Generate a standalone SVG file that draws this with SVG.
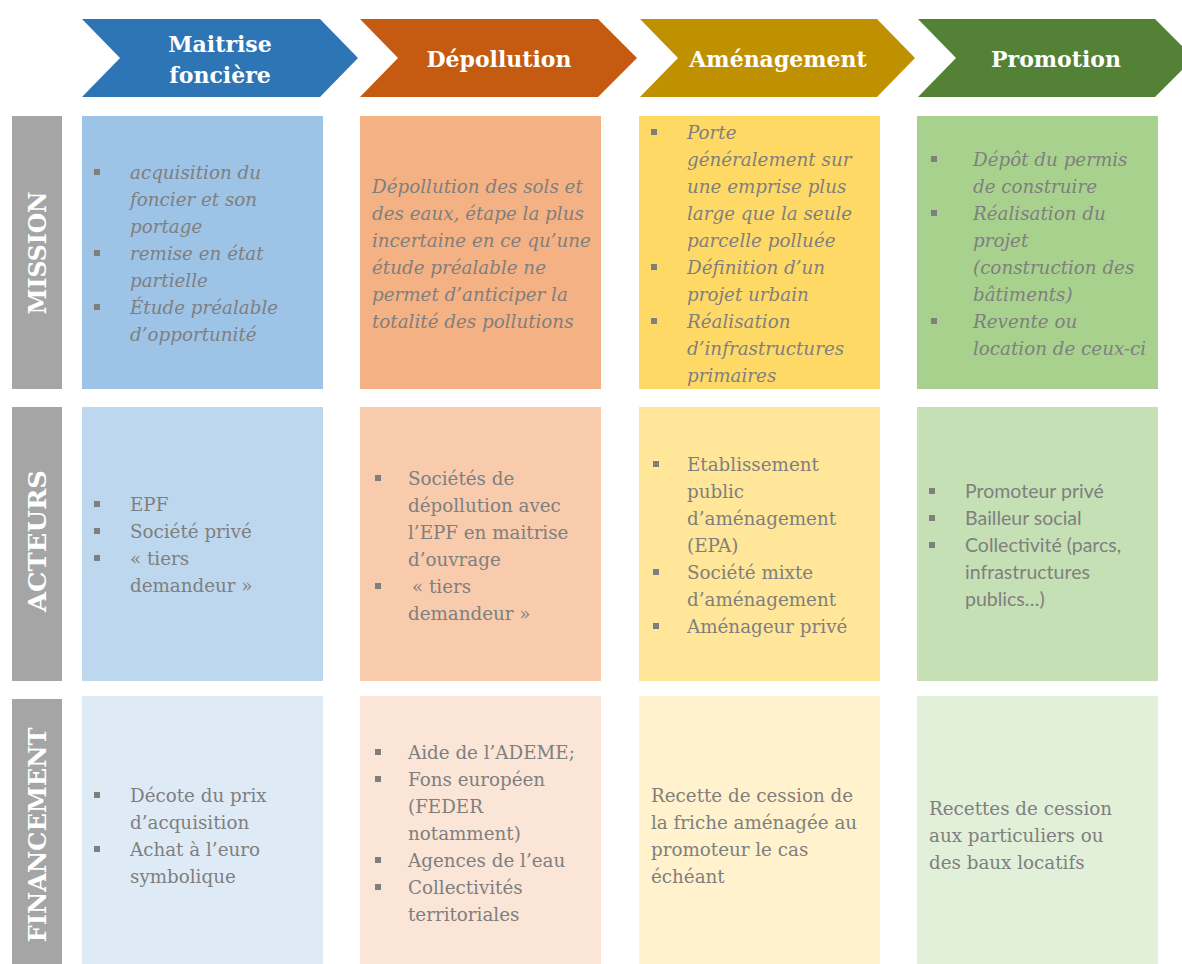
<svg xmlns="http://www.w3.org/2000/svg" width="1182" height="964" viewBox="0 0 1182 964">
<style>
.hd{font-family:"DejaVu Serif","Liberation Serif",serif;font-weight:bold;font-size:22px;fill:#fff;text-anchor:middle}
.rl{font-family:"DejaVu Serif","Liberation Serif",serif;font-weight:bold;font-size:24px;fill:#fff;text-anchor:middle}
.t{font-family:"DejaVu Serif","Liberation Serif",serif;font-size:18.3px;fill:#7f7f7f}
.it{font-style:italic}
.sn{font-family:Lato,"Liberation Sans",sans-serif;font-size:19.5px;fill:#7f7f7f}
.b{fill:#7f7f7f}
</style>
<rect width="1182" height="964" fill="#fff"/>
<g id="headers">
<g id="h1"><polygon points="82,19 320,19 358,58 320,97 82,97 120,58" fill="#2e75b6"/><text class="hd" x="220" y="52">Maitrise</text><text class="hd" x="220" y="83">foncière</text></g>
<g id="h2"><polygon points="360,19 598,19 637,58 598,97 360,97 398,58" fill="#c55a11"/><text class="hd" x="499" y="67">Dépollution</text></g>
<g id="h3"><polygon points="640,19 877,19 915,58 877,97 640,97 678,58" fill="#bf9000"/><text class="hd" x="778" y="67">Aménagement</text></g>
<g id="h4"><polygon points="918,19 1155,19 1194,58 1155,97 918,97 956,58" fill="#538135"/><text class="hd" x="1056" y="67">Promotion</text></g>
</g>
<g id="rowlabels">
<g id="l1"><rect x="12" y="116" width="50" height="273" fill="#a5a5a5"/><text class="rl" transform="translate(46,253) rotate(-90)" textLength="123" lengthAdjust="spacingAndGlyphs">MISSION</text></g>
<g id="l2"><rect x="12" y="407" width="50" height="274" fill="#a5a5a5"/><text class="rl" transform="translate(46,541) rotate(-90)" textLength="142" lengthAdjust="spacingAndGlyphs">ACTEURS</text></g>
<g id="l3"><rect x="12" y="699" width="50" height="265" fill="#a5a5a5"/><text class="rl" transform="translate(46,835) rotate(-90)" textLength="215" lengthAdjust="spacingAndGlyphs">FINANCEMENT</text></g>
</g>
<g id="mission">
<g id="m1"><rect x="82" y="116" width="241" height="273" fill="#9dc3e6"/>
<rect class="b" x="94" y="169" width="6" height="6"/><rect class="b" x="94" y="250" width="6" height="6"/><rect class="b" x="94" y="304" width="6" height="6"/>
<text class="t it" x="130" y="179">acquisition du</text><text class="t it" x="130" y="206">foncier et son</text><text class="t it" x="130" y="233">portage</text><text class="t it" x="130" y="260">remise en état</text><text class="t it" x="130" y="287">partielle</text><text class="t it" x="130" y="314">Étude préalable</text><text class="t it" x="130" y="341">d’opportunité</text></g>
<g id="m2"><rect x="360" y="116" width="241" height="273" fill="#f4b183"/>
<text class="t it" x="372" y="193">Dépollution des sols et</text><text class="t it" x="372" y="220">des eaux, étape la plus</text><text class="t it" x="372" y="247">incertaine en ce qu’une</text><text class="t it" x="372" y="274">étude préalable ne</text><text class="t it" x="372" y="301">permet d’anticiper la</text><text class="t it" x="372" y="328">totalité des pollutions</text></g>
<g id="m3"><rect x="639" y="116" width="241" height="273" fill="#ffd966"/>
<rect class="b" x="651" y="129" width="6" height="6"/><rect class="b" x="651" y="264" width="6" height="6"/><rect class="b" x="651" y="318" width="6" height="6"/>
<text class="t it" x="687" y="139">Porte</text><text class="t it" x="687" y="166">généralement sur</text><text class="t it" x="687" y="193">une emprise plus</text><text class="t it" x="687" y="220">large que la seule</text><text class="t it" x="687" y="247">parcelle polluée</text><text class="t it" x="687" y="274">Définition d’un</text><text class="t it" x="687" y="301">projet urbain</text><text class="t it" x="687" y="328">Réalisation</text><text class="t it" x="687" y="355">d’infrastructures</text><text class="t it" x="687" y="382">primaires</text></g>
<g id="m4"><rect x="917" y="116" width="241" height="273" fill="#a9d18e"/>
<rect class="b" x="931" y="156" width="6" height="6"/><rect class="b" x="931" y="210" width="6" height="6"/><rect class="b" x="931" y="318" width="6" height="6"/>
<text class="t it" x="973" y="166">Dépôt du permis</text><text class="t it" x="973" y="193">de construire</text><text class="t it" x="973" y="220">Réalisation du</text><text class="t it" x="973" y="247">projet</text><text class="t it" x="973" y="274">(construction des</text><text class="t it" x="973" y="301">bâtiments)</text><text class="t it" x="973" y="328">Revente ou</text><text class="t it" x="973" y="355">location de ceux-ci</text></g>
</g>
<g id="acteurs">
<g id="a1"><rect x="82" y="407" width="241" height="274" fill="#bdd7ee"/>
<rect class="b" x="94" y="501" width="6" height="6"/><rect class="b" x="94" y="528" width="6" height="6"/><rect class="b" x="94" y="555" width="6" height="6"/>
<text class="t" x="130" y="511">EPF</text><text class="t" x="130" y="538">Société privé</text><text class="t" x="130" y="565">« tiers</text><text class="t" x="130" y="592">demandeur »</text></g>
<g id="a2"><rect x="360" y="407" width="241" height="274" fill="#f8cbad"/>
<rect class="b" x="375" y="475" width="6" height="6"/><rect class="b" x="375" y="583" width="6" height="6"/>
<text class="t" x="408" y="485">Sociétés de</text><text class="t" x="408" y="512">dépollution avec</text><text class="t" x="408" y="539">l’EPF en maitrise</text><text class="t" x="408" y="566">d’ouvrage</text><text class="t" x="412" y="593">« tiers</text><text class="t" x="408" y="620">demandeur »</text></g>
<g id="a3"><rect x="639" y="407" width="241" height="274" fill="#ffe699"/>
<rect class="b" x="653" y="461" width="6" height="6"/><rect class="b" x="653" y="569" width="6" height="6"/><rect class="b" x="653" y="623" width="6" height="6"/>
<text class="t" x="687" y="471">Etablissement</text><text class="t" x="687" y="498">public</text><text class="t" x="687" y="525">d’aménagement</text><text class="t" x="687" y="552">(EPA)</text><text class="t" x="687" y="579">Société mixte</text><text class="t" x="687" y="606">d’aménagement</text><text class="t" x="687" y="633">Aménageur privé</text></g>
<g id="a4"><rect x="917" y="407" width="241" height="274" fill="#c5e0b4"/>
<rect class="b" x="929" y="488" width="6" height="6"/><rect class="b" x="929" y="515" width="6" height="6"/><rect class="b" x="929" y="542" width="6" height="6"/>
<text class="sn" x="965" y="498">Promoteur privé</text><text class="sn" x="965" y="525">Bailleur social</text><text class="sn" x="965" y="552">Collectivité (parcs,</text><text class="sn" x="965" y="579">infrastructures</text><text class="sn" x="965" y="606">publics…)</text></g>
</g>
<g id="financement">
<g id="f1"><rect x="82" y="696" width="241" height="268" fill="#deebf7"/>
<rect class="b" x="94" y="792" width="6" height="6"/><rect class="b" x="94" y="846" width="6" height="6"/>
<text class="t" x="130" y="802">Décote du prix</text><text class="t" x="130" y="829">d’acquisition</text><text class="t" x="130" y="856">Achat à l’euro</text><text class="t" x="130" y="883">symbolique</text></g>
<g id="f2"><rect x="360" y="696" width="241" height="268" fill="#fbe5d6"/>
<rect class="b" x="375" y="749" width="6" height="6"/><rect class="b" x="375" y="776" width="6" height="6"/><rect class="b" x="375" y="857" width="6" height="6"/><rect class="b" x="375" y="884" width="6" height="6"/>
<text class="t" x="408" y="759">Aide de l’ADEME;</text><text class="t" x="408" y="786">Fons européen</text><text class="t" x="408" y="813">(FEDER</text><text class="t" x="408" y="840">notamment)</text><text class="t" x="408" y="867">Agences de l’eau</text><text class="t" x="408" y="894">Collectivités</text><text class="t" x="408" y="921">territoriales</text></g>
<g id="f3"><rect x="639" y="696" width="241" height="268" fill="#fff2cc"/>
<text class="t" x="651" y="802">Recette de cession de</text><text class="t" x="651" y="829">la friche aménagée au</text><text class="t" x="651" y="856">promoteur le cas</text><text class="t" x="651" y="883">échéant</text></g>
<g id="f4"><rect x="917" y="696" width="241" height="268" fill="#e2f0d9"/>
<text class="t" x="929" y="815">Recettes de cession</text><text class="t" x="929" y="842">aux particuliers ou</text><text class="t" x="929" y="869">des baux locatifs</text></g>
</g>
<g id="connectors"/>
</svg>
